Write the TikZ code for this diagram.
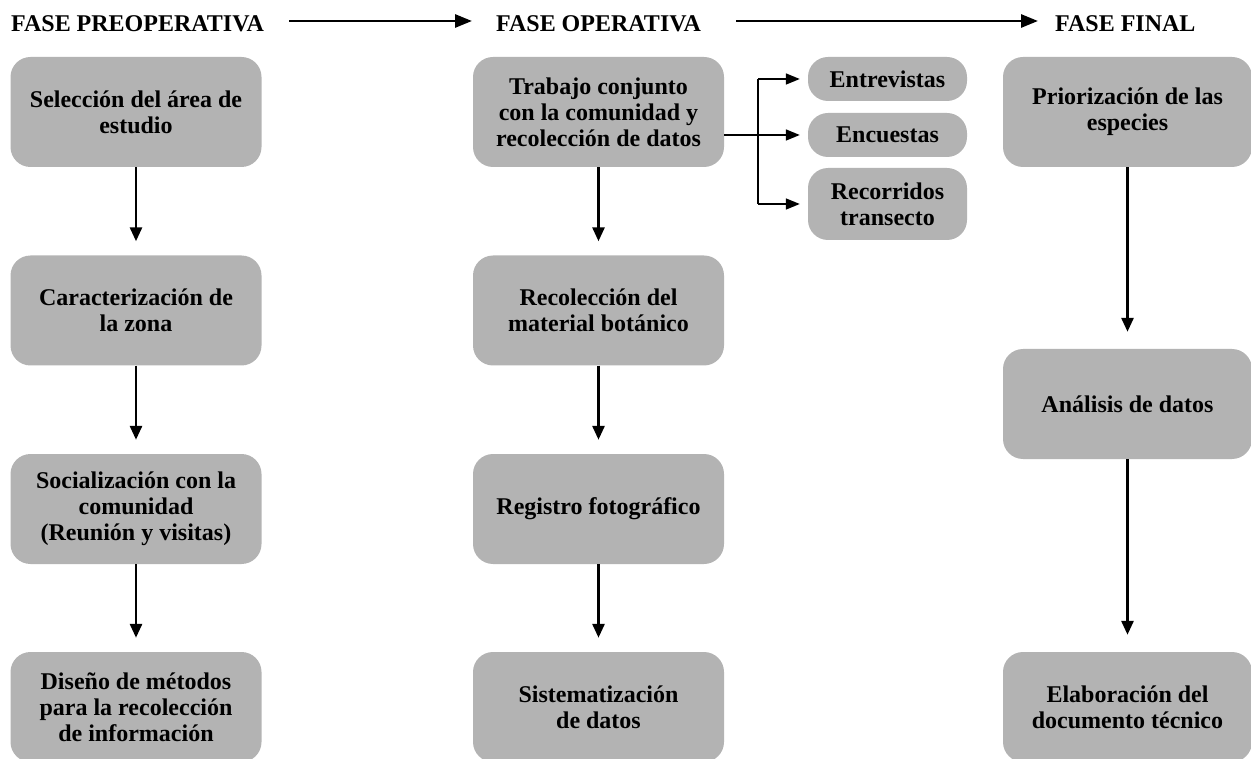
\documentclass[tikz,border=0pt]{standalone}
\usepackage{fontspec}
\setmainfont{Liberation Serif}
\usetikzlibrary{arrows.meta}
\definecolor{boxgray}{RGB}{179,179,179}
\tikzset{
  stepbox/.style={fill=boxgray, rounded corners=20pt, minimum width=251pt, minimum height=110pt,
    inner sep=0pt, align=center, font=\bfseries\fontsize{24}{26}\selectfont},
  smallbox/.style={fill=boxgray, rounded corners=20pt, minimum width=159pt,
    inner sep=0pt, align=center, font=\bfseries\fontsize{24}{26}\selectfont},
  headtxt/.style={anchor=base west, inner sep=0pt, font=\bfseries\fontsize{24}{26}\selectfont},
  varrow/.style={line width=2.8pt, -{Triangle[length=14pt,width=12pt]}, shorten >=14pt},
  harrow/.style={line width=2.8pt, -{Triangle[length=17pt,width=13pt]}},
  barrow/.style={line width=1.7pt, -{Triangle[length=14pt,width=11pt]}, shorten >=8pt},
  bline/.style={line width=1.7pt}
}
\begin{document}
\begin{tikzpicture}[x=1pt,y=-1pt]
\useasboundingbox (0,0) rectangle (1251,759);
% headers
\node[headtxt] (h1) at (11,32) {FASE PREOPERATIVA};
\node[headtxt] (h2) at (496,32) {FASE OPERATIVA};
\node[headtxt] (h3) at (1055,32) {FASE FINAL};
\draw[harrow] ([xshift=25pt,yshift=11pt]h1.base east) -- ([xshift=-24pt,yshift=11pt]h2.base west);
\draw[harrow] ([xshift=35pt,yshift=11pt]h2.base east) -- ([xshift=-17pt,yshift=11pt]h3.base west);
% column 1
\node[stepbox] (a1) at (136,112) {Selección del área de\\estudio};
\node[stepbox] (a2) at (136,310.5) {Caracterización de\\la zona};
\node[stepbox] (a3) at (136,509) {Socialización con la\\comunidad\\(Reunión y visitas)};
\node[stepbox] (a4) at (136,707) {Diseño de métodos\\para la recolección\\de información};
% column 2
\node[stepbox] (b1) at (598.5,112) {Trabajo conjunto\\con la comunidad y\\recolección de datos};
\node[stepbox] (b2) at (598.5,310.5) {Recolección del\\material botánico};
\node[stepbox] (b3) at (598.5,509) {Registro fotográfico};
\node[stepbox] (b4) at (598.5,707) {Sistematización\\de datos};
% column 3
\node[stepbox, minimum width=249pt] (c1) at (1127.5,112) {Priorización de las\\especies};
\node[stepbox, minimum width=249pt] (c2) at (1127.5,404) {Análisis de datos};
\node[stepbox, minimum width=249pt] (c3) at (1127.5,707) {Elaboración del\\documento técnico};
% small boxes
\node[smallbox, minimum height=44pt] (s1) at (887.5,79) {Entrevistas};
\node[smallbox, minimum height=44pt] (s2) at (887.5,135) {Encuestas};
\node[smallbox, minimum height=72pt] (s3) at (887.5,204) {Recorridos\\transecto};
% vertical arrows
\draw[varrow] (a1) -- (a2);
\draw[varrow] (a2) -- (a3);
\draw[varrow] (a3) -- (a4);
\draw[varrow] (b1) -- (b2);
\draw[varrow] (b2) -- (b3);
\draw[varrow] (b3) -- (b4);
\draw[varrow, shorten >=17pt] (c1) -- (c2);
\draw[varrow, shorten >=17pt] (c2) -- (c3);
% branch
\coordinate (j) at (758,134);
\draw[barrow] (b1.east |- s2.west) -- (s2.west);
\draw[bline] (j |- s1.west) -- (j |- s3.west);
\draw[barrow] (j |- s1.west) -- (s1.west);
\draw[barrow] (j |- s3.west) -- (s3.west);
\end{tikzpicture}
\end{document}
